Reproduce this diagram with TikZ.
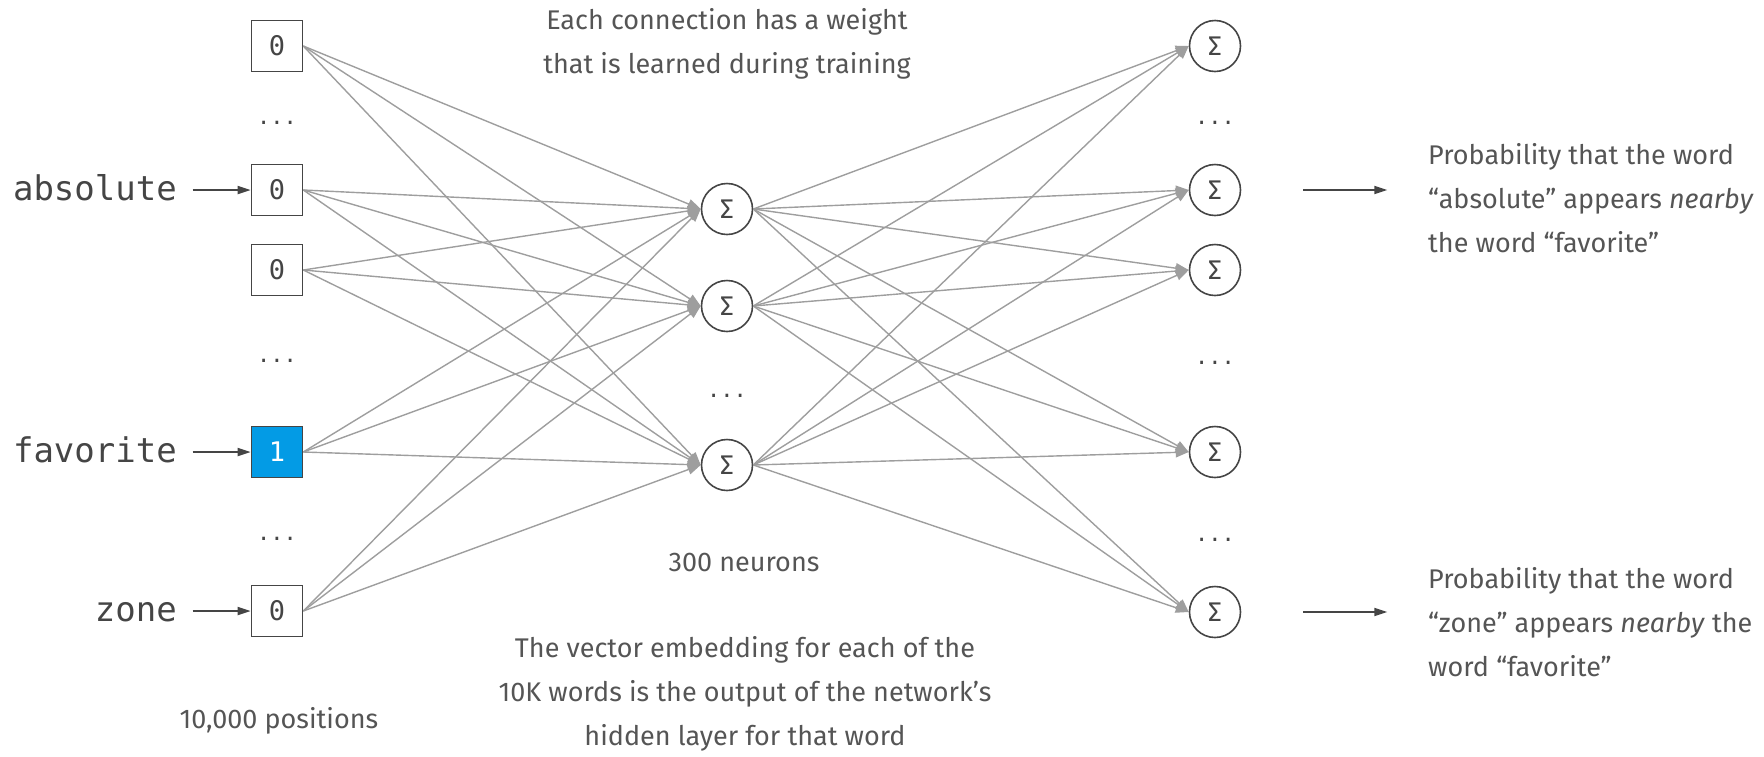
\documentclass[tikz,border=0pt]{standalone}
\usepackage{fontspec}
\setmainfont{Fira Sans}
\newfontfamily\monof{DejaVu Sans Mono}
\usetikzlibrary{arrows.meta}
\definecolor{txt}{HTML}{454545}
\definecolor{ltxt}{HTML}{555555}
\definecolor{edgec}{HTML}{9E9E9E}
\definecolor{inblue}{HTML}{039BE5}
\begin{document}
\begin{tikzpicture}[x=1pt,y=-1pt,
  inbox/.style={draw=txt, line width=1.6pt, minimum size=51pt, inner sep=0pt,
    font=\monof\fontsize{27}{27}\selectfont, text=txt},
  hotbox/.style={inbox, fill=inblue, text=white},
  neuron/.style={circle, draw=txt, line width=1.6pt, minimum size=51pt, inner sep=0pt,
    font=\fontsize{27}{27}\selectfont, text=txt},
  conn/.style={draw=edgec, line width=1.4pt, -{Triangle[length=13pt,width=10pt]}},
  feed/.style={draw=txt, line width=1.8pt, -{Triangle[length=13pt,width=8pt]}},
  vdots/.style={anchor=base, text=txt, font=\monof\fontsize{22}{22}\selectfont, inner sep=0pt},
  word/.style={anchor=base east, text=txt, font=\monof\fontsize{34}{34}\selectfont, inner sep=0pt},
  note/.style={text=ltxt, font=\fontsize{27}{44}\selectfont, inner sep=0pt, align=center},
  rnote/.style={text=ltxt, font=\fontsize{27}{44}\selectfont, inner sep=0pt, align=left, anchor=west}
]
\useasboundingbox (0,0) rectangle (1764,756);

% input layer
\node[inbox] (i1) at (277,46) {0};
\node[inbox] (i2) at (277,190) {0};
\node[inbox] (i3) at (277,270) {0};
\node[hotbox] (i4) at (277,452) {1};
\node[inbox] (i5) at (277,611) {0};
\node[vdots] (d1) at (277,124) {...};
\node[vdots] (d2) at (277,362) {...};
\node[vdots] (d3) at (277,540) {...};

% hidden layer
\node[neuron] (h1) at (727,209) {Σ};
\node[neuron] (h2) at (727,306) {Σ};
\node[neuron] (h3) at (727,465) {Σ};
\node[vdots] (d4) at (727,397) {...};

% output layer
\node[neuron] (o1) at (1215,46) {Σ};
\node[neuron] (o2) at (1215,190) {Σ};
\node[neuron] (o3) at (1215,270) {Σ};
\node[neuron] (o4) at (1215,452) {Σ};
\node[neuron] (o5) at (1215,612) {Σ};
\node[vdots] (d5) at (1215,124) {...};
\node[vdots] (d6) at (1215,364) {...};
\node[vdots] (d7) at (1215,541) {...};

% word labels
\node[word] (w1) at (177,200) {absolute};
\node[word] (w2) at (177,462) {favorite};
\node[word] (w3) at (177,621) {zone};
\draw[feed] ([xshift=-58pt]i2.west) -- (i2.west);
\draw[feed] ([xshift=-58pt]i4.west) -- (i4.west);
\draw[feed] ([xshift=-58pt]i5.west) -- (i5.west);

% connections
\foreach \i in {1,...,5}
  \foreach \j in {1,2,3}
    \draw[conn] (i\i.east) -- (h\j.west);
\foreach \j in {1,2,3}
  \foreach \k in {1,...,5}
    \draw[conn] (h\j.east) -- (o\k.west);

% output arrows
\draw[feed] ([xshift=62pt]o2.east) -- ([xshift=146pt]o2.east);
\draw[feed] ([xshift=62pt]o5.east) -- ([xshift=146pt]o5.east);

% texts
\node[note] (t1) at (727,44) {Each connection has a weight\\that is learned during training};
\node[note] (t2) at (744,562) {300 neurons};
\node[note] (t3) at (745,694) {The vector embedding for each of the\\10K words is the output of the network’s\\hidden layer for that word};
\node[note] (t4) at (279,721) {10,000 positions};
\node[rnote] (r1) at (1428,198) {Probability that the word\\“absolute” appears \textit{nearby}\\the word “favorite”};
\node[rnote] (r2) at (1428,622) {Probability that the word\\“zone” appears \textit{nearby} the\\word “favorite”};
\end{tikzpicture}
\end{document}
